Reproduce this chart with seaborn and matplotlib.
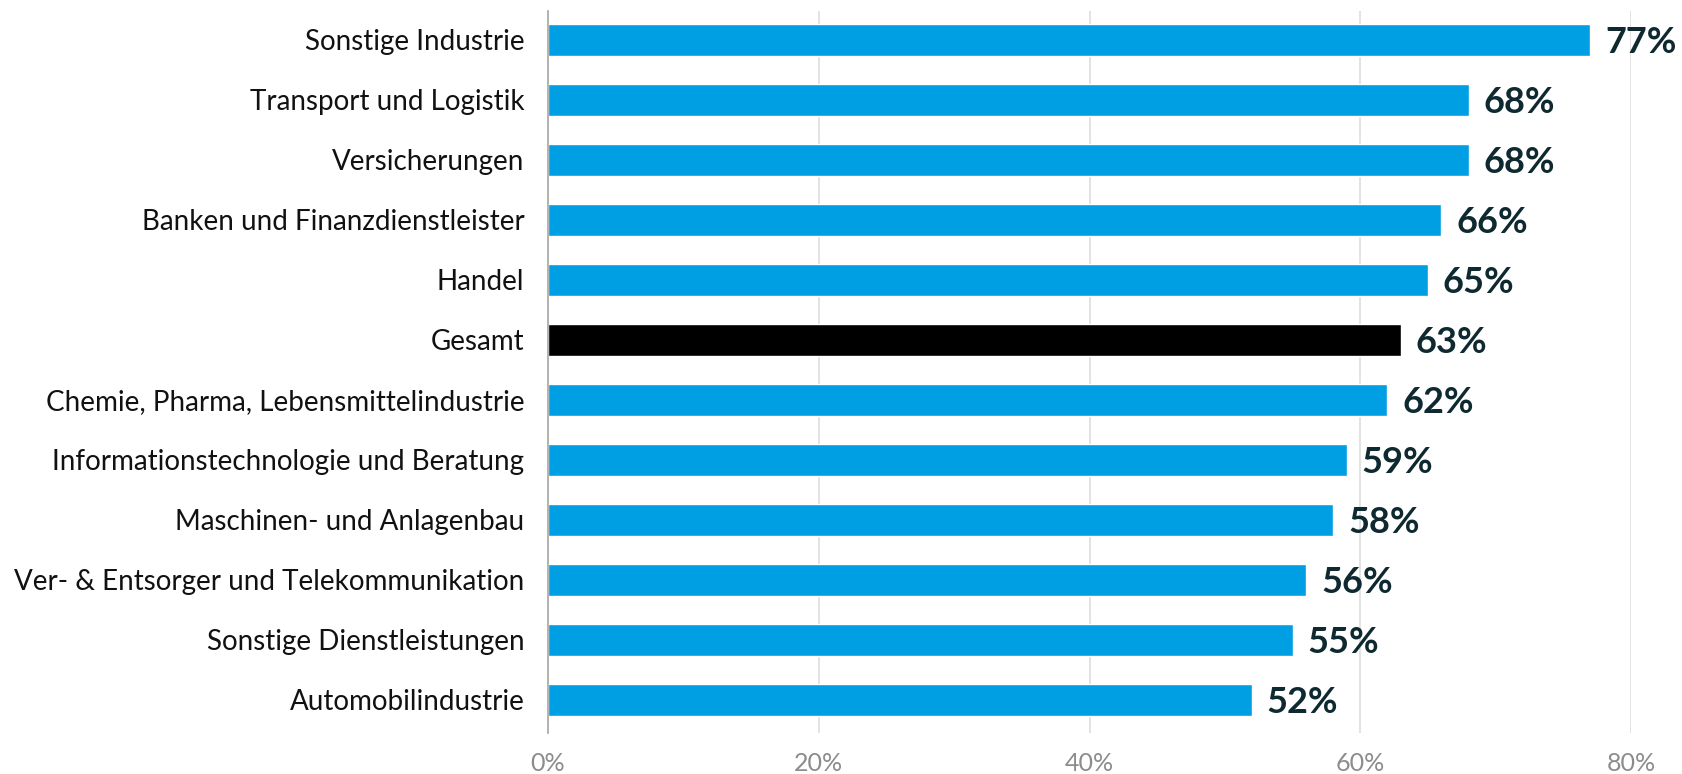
import matplotlib
matplotlib.use("Agg")
import matplotlib.pyplot as plt
import seaborn as sns
import pandas as pd

categories = [
    "Sonstige Industrie",
    "Transport und Logistik",
    "Versicherungen",
    "Banken und Finanzdienstleister",
    "Handel",
    "Gesamt",
    "Chemie, Pharma, Lebensmittelindustrie",
    "Informationstechnologie und Beratung",
    "Maschinen- und Anlagenbau",
    "Ver- & Entsorger und Telekommunikation",
    "Sonstige Dienstleistungen",
    "Automobilindustrie",
]
values = [77, 68, 68, 66, 65, 63, 62, 59, 58, 56, 55, 52]
tick_values = [0, 20, 40, 60, 80]
tick_labels = ["0%", "20%", "40%", "60%", "80%"]

BLUE = "#009fe3"
TOTAL = "#000000"
LABEL = "#0e2a30"

df = pd.DataFrame({"Branche": categories, "Anteil": values})
df["Gruppe"] = ["Gesamt" if c == "Gesamt" else "Branche" for c in categories]

sns.set_theme(style="white")
plt.rcParams["font.family"] = ["Lato", "DejaVu Sans"]

fig = plt.figure(figsize=(16.82, 7.74), dpi=100)
ax = fig.add_axes([548 / 1682, 1 - 733 / 774, (1631 - 548) / 1682, (733 - 11) / 774])

sns.barplot(
    data=df, y="Branche", x="Anteil", hue="Gruppe",
    palette={"Branche": BLUE, "Gesamt": TOTAL},
    order=categories, orient="h", width=0.53, dodge=False,
    legend=False, ax=ax, saturation=1,
)

ax.set_xlim(0, 80)
ax.set_ylim(11.55, -0.48)
ax.set_xticks(tick_values)
ax.set_xticklabels(tick_labels, fontsize=18, color="#8c8c8c")
ax.tick_params(axis="x", length=0, pad=14)
ax.tick_params(axis="y", length=0, pad=17, labelsize=20, labelcolor="#111111")
ax.set_xlabel("")
ax.set_ylabel("")

ax.xaxis.grid(True, color="#dedede", linewidth=1.2)
ax.set_axisbelow(True)
for s in ["top", "right", "bottom"]:
    ax.spines[s].set_visible(False)
ax.spines["left"].set_color("#a6a6a6")
ax.spines["left"].set_linewidth(1.2)

for i, v in enumerate(values):
    ax.text(v + 1.1, i, f"{v}%", va="center_baseline", ha="left",
            fontsize=26, fontweight="bold", color=LABEL, clip_on=False)

fig.savefig("out.png", dpi=100)
